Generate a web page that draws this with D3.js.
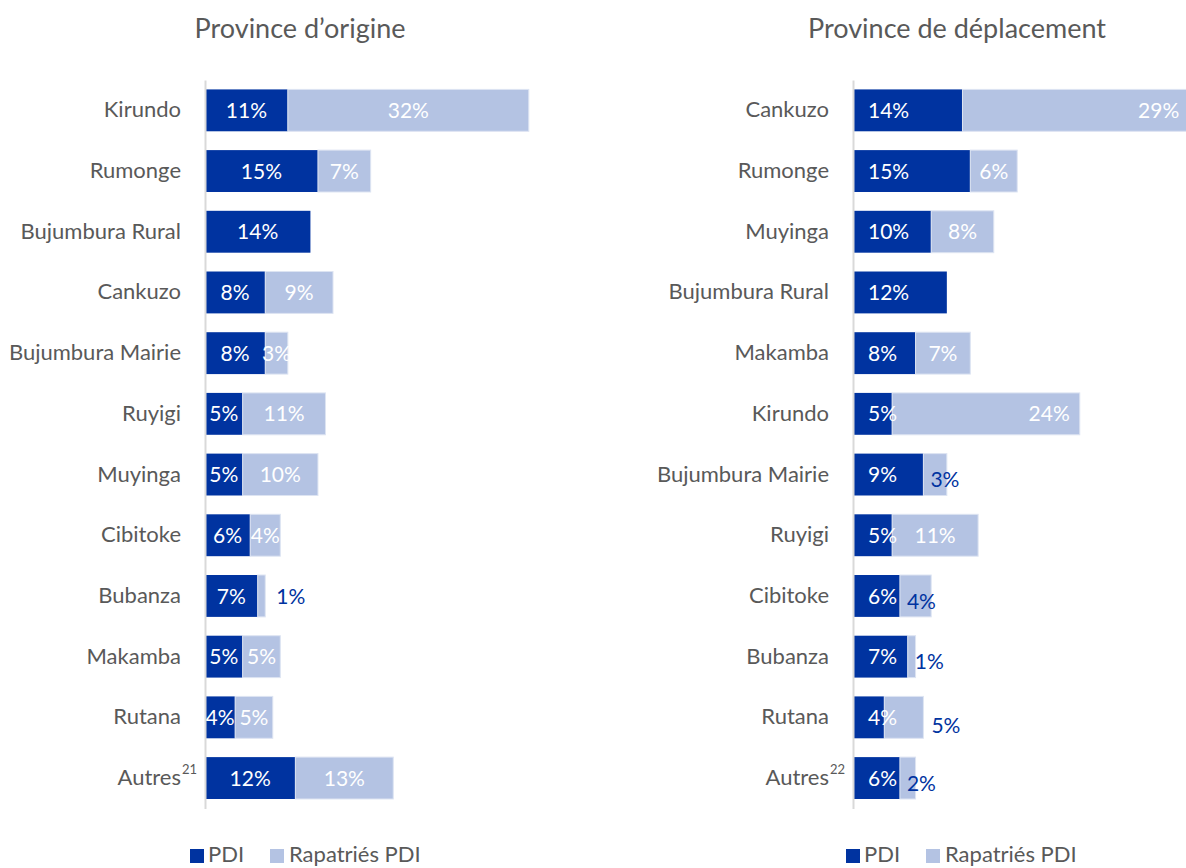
<!DOCTYPE html>
<html>
<head>
<meta charset="utf-8">
<script src="https://cdn.jsdelivr.net/npm/d3@7"></script>
<style>
  body { margin: 0; background: #fff; }
  svg { display: block; font-family: Lato, "Open Sans", sans-serif; }
</style>
</head>
<body>
<svg id="chart" width="1186" height="868"></svg>
<script>
// data
var originCats = ["Kirundo", "Rumonge", "Bujumbura Rural", "Cankuzo", "Bujumbura Mairie", "Ruyigi",
                  "Muyinga", "Cibitoke", "Bubanza", "Makamba", "Rutana", "Autres"]
var originPdi = [11, 15, 14, 8, 8, 5, 5, 6, 7, 5, 4, 12]
var originRap = [32, 7, 0, 9, 3, 11, 10, 4, 1, 5, 5, 13]

var displCats = ["Cankuzo", "Rumonge", "Muyinga", "Bujumbura Rural", "Makamba", "Kirundo",
                 "Bujumbura Mairie", "Ruyigi", "Cibitoke", "Bubanza", "Rutana", "Autres"]
var displPdi = [14, 15, 10, 12, 8, 5, 9, 5, 6, 7, 4, 6]
var displRap = [29, 6, 8, 0, 7, 24, 3, 11, 4, 1, 5, 2]

var footnotes = ["21", "22"]
var titles = ["Province d\u2019origine", "Province de d\u00e9placement"]
var seriesNames = ["PDI", "Rapatri\u00e9s PDI"]

// where the light segment's label goes: in = centred white, end = inside end,
// out = blue from segment start, after = blue past the bar end
var originRapPos = ["in","in","in","in","in","in","in","in","after","in","in","in"]
var displRapPos = ["end","in","in","in","in","end","out","in","out","out","after","out"]

var dark = "#0033a0", light = "#b4c3e3", grey = "#595959"
var svg = d3.select("#chart")

function panel(cats, pdi, rap, pos, opt){
    var x = d3.scaleLinear().domain([0, 45]).range([opt.x0, opt.x0 + 45 * opt.k])
    var y = d3.scaleBand().domain(cats).range([80, 808.4])
        .paddingInner(0.31).paddingOuter(0.155)
    var g = svg.append("g")

    // title
    g.append("text")
        .attr("x", opt.titleX).attr("y", 38)
        .attr("text-anchor", "middle")
        .style("font-size", "27px").style("fill", grey)
        .text(opt.title)

    var rows = cats.map(function(c, i){
        return {cat: c, pdi: pdi[i], rap: rap[i], pos: pos[i]}
    })

    var row = g.selectAll(".row").data(rows).enter().append("g")

    row.append("rect")
        .attr("x", x(0)).attr("y", d => y(d.cat))
        .attr("width", d => x(d.pdi) - x(0)).attr("height", y.bandwidth())
        .style("fill", dark)

    row.filter(d => d.rap > 0).append("rect")
        .attr("x", d => x(d.pdi)).attr("y", d => y(d.cat))
        .attr("width", d => x(d.pdi + d.rap) - x(d.pdi)).attr("height", y.bandwidth())
        .style("fill", light)
        .style("stroke", "#dde4f2").style("stroke-width", 1)

    // PDI labels
    row.append("text")
        .attr("x", d => opt.darkStart ? x(0) + 15 : (x(0) + x(d.pdi)) / 2)
        .attr("y", d => y(d.cat) + y.bandwidth() / 2)
        .attr("dy", "0.36em")
        .attr("text-anchor", opt.darkStart ? "start" : "middle")
        .style("font-size", "21px").style("fill", "#fff")
        .text(d => d.pdi + "%")

    // Rapatriés labels
    row.filter(d => d.rap > 0).append("text")
        .attr("x", function(d){
            if(d.pos == "end") return x(d.pdi + d.rap) - 10
            if(d.pos == "out") return x(d.pdi) + 7
            if(d.pos == "after") return x(d.pdi + d.rap) + opt.afterGap
            return (x(d.pdi) + x(d.pdi + d.rap)) / 2
        })
        .attr("y", function(d){
            var c = y(d.cat) + y.bandwidth() / 2
            if(!opt.darkStart || d.pos == "in" || d.pos == "end") return c
            return c + (d.pos == "after" ? 8 : 5)
        })
        .attr("dy", "0.36em")
        .attr("text-anchor", d => d.pos == "end" ? "end" : (d.pos == "out" || d.pos == "after") ? "start" : "middle")
        .style("font-size", "21px")
        .style("fill", d => (d.pos == "out" || d.pos == "after") ? dark : "#fff")
        .text(d => d.rap + "%")

    // category axis
    var axis = g.append("g")
        .attr("transform", "translate(" + x(0) + ",0)")
        .call(d3.axisLeft(y).tickSize(0).tickSizeOuter(0).tickPadding(24))
    axis.select(".domain").style("stroke", "#d9d9d9").style("stroke-width", 2)
    axis.selectAll("text")
        .style("font-size", "22px").style("fill", grey)
        .style("font-family", "Lato, 'Open Sans', sans-serif")

    // footnote number next to "Autres"
    var yA = y("Autres") + y.bandwidth() / 2
    g.append("text")
        .attr("x", x(0) - 23).attr("y", yA - 4)
        .style("font-size", "13px").style("fill", grey)
        .text(opt.note)

    // legend
    var lg = g.append("g").attr("transform", "translate(" + opt.legendX + ",0)")
    lg.append("rect").attr("x", 0).attr("y", 849).attr("width", 14).attr("height", 14).style("fill", dark)
    lg.append("text").attr("x", 18).attr("y", 862).style("font-size", "22px").style("fill", grey).text(seriesNames[0])
    lg.append("rect").attr("x", 80).attr("y", 849).attr("width", 14).attr("height", 14).style("fill", light)
    lg.append("text").attr("x", 99).attr("y", 862).style("font-size", "22px").style("fill", grey).text(seriesNames[1])
}

panel(originCats, originPdi, originRap, originRapPos,
      {x0: 205, k: 7.53, titleX: 300, title: titles[0], note: footnotes[0], darkStart: false, legendX: 190, afterGap: 11})
panel(displCats, displPdi, displRap, displRapPos,
      {x0: 853, k: 7.82, titleX: 957, title: titles[1], note: footnotes[1], darkStart: true, legendX: 846, afterGap: 8})
</script>
</body>
</html>
